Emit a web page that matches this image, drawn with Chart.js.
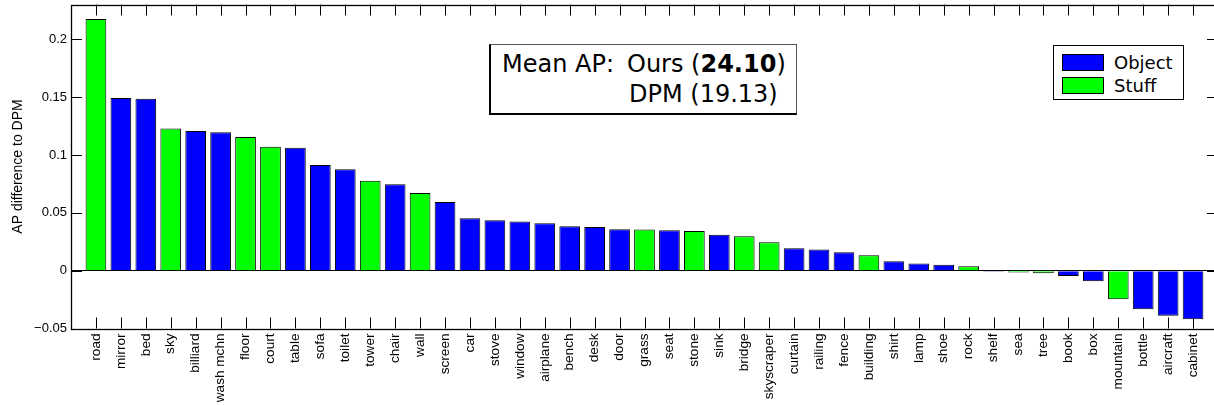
<!DOCTYPE html>
<html>
<head>
<meta charset="utf-8">
<script src="https://cdn.jsdelivr.net/npm/chart.js@4.4.1/dist/chart.umd.min.js"></script>
<style>
  html, body { margin: 0; padding: 0; background: #fff; overflow: hidden; }
  #wrap { position: relative; width: 1240px; height: 405px; }
  #note {
    position: absolute; left: 489px; top: 44px; width: 305px; height: 68px;
    background: #fff; border: 1px solid #555; border-left: 2px solid #000; border-bottom: 2px solid #000;
    font-family: 'DejaVu Sans', sans-serif; font-size: 24px; color: #000;
  }
  #note span { position: absolute; white-space: nowrap; line-height: 1; }
  #legend {
    position: absolute; left: 1053px; top: 45px; width: 129px; height: 53px;
    background: #fff; border: 1px solid #000;
    font-family: 'DejaVu Sans', sans-serif; font-size: 18px; color: #000;
  }
  #legend .row { position: absolute; left: 8px; height: 16px; display: flex; align-items: center; }
  #legend .sw { width: 40px; height: 15px; border: 1px solid #000; margin-right: 10px; }
</style>
</head>
<body>
<div id="wrap">
  <canvas id="apChart"></canvas>
  <div id="note">
    <span style="left:11px; top:7px;">Mean AP:</span>
    <span style="left:136px; top:7px;">Ours (<b>24.10</b>)</span>
    <span style="left:138px; top:37px;">DPM (19.13)</span>
  </div>
  <div id="legend"></div>
</div>
<script>
// categories sorted by AP gain over DPM
const categories = ['road', 'mirror', 'bed', 'sky', 'billiard', 'wash mchn', 'floor', 'court', 'table', 'sofa',
  'toilet', 'tower', 'chair', 'wall', 'screen', 'car', 'stove', 'window', 'airplane', 'bench',
  'desk', 'door', 'grass', 'seat', 'stone', 'sink', 'bridge', 'skyscraper', 'curtain', 'railing',
  'fence', 'building', 'shirt', 'lamp', 'shoe', 'rock', 'shelf', 'sea', 'tree', 'book',
  'box', 'mountain', 'bottle', 'aircraft', 'cabinet'];
// O = object, S = stuff
const kinds = ['S', 'O', 'O', 'S', 'O', 'O', 'S', 'S', 'O', 'O',
  'O', 'S', 'O', 'S', 'O', 'O', 'O', 'O', 'O', 'O',
  'O', 'O', 'S', 'O', 'S', 'O', 'S', 'S', 'O', 'O',
  'O', 'S', 'O', 'O', 'O', 'S', 'O', 'S', 'S', 'O',
  'O', 'S', 'O', 'O', 'O'];
const apDiff = [0.2175, 0.1491, 0.1485, 0.1228, 0.1206, 0.1197, 0.1154, 0.1070, 0.1061, 0.0912,
  0.0877, 0.0776, 0.0747, 0.0672, 0.0594, 0.0453, 0.0436, 0.0424, 0.0410, 0.0384,
  0.0378, 0.0358, 0.0356, 0.0349, 0.0343, 0.0311, 0.0298, 0.0246, 0.0194, 0.0182,
  0.0159, 0.0133, 0.0081, 0.0061, 0.0052, 0.0038, -0.0009, -0.0017, -0.0023, -0.0046,
  -0.0092, -0.0247, -0.0334, -0.0389, -0.0420];
const yTicks = [-0.05, 0, 0.05, 0.1, 0.15, 0.2];
const yTickLabels = ['\u22120.05', '0', '0.05', '0.1', '0.15', '0.2'];

const kindColors = { O: '#0000ff', S: '#00ff00' };
const kindNames = { O: 'Object', S: 'Stuff' };

// legend box
const legend = document.getElementById('legend');
['O', 'S'].forEach((k, i) => {
  legend.innerHTML += `<div class="row" style="top:${8 + i * 23}px"><div class="sw" style="background:${kindColors[k]}"></div>${kindNames[k]}</div>`;
});

Chart.defaults.font.family = "'Liberation Sans', Arial, sans-serif";
Chart.defaults.color = '#000';

// matlab style box with inward ticks
const axesBox = {
  id: 'axesBox',
  beforeDatasetsDraw(chart) {
    const { ctx, chartArea: a, scales: { x, y } } = chart;
    ctx.save();
    ctx.strokeStyle = '#000';
    ctx.lineWidth = 1;
    ctx.beginPath();
    x.ticks.forEach(t => {
      const px = Math.round(x.getPixelForValue(t.value)) + 0.5;
      ctx.moveTo(px, a.top); ctx.lineTo(px, a.top + 11);
      ctx.moveTo(px, a.bottom); ctx.lineTo(px, a.bottom - 11);
    });
    y.ticks.forEach(t => {
      const py = Math.round(y.getPixelForValue(t.value)) + 0.5;
      ctx.moveTo(a.left, py); ctx.lineTo(a.left + 11, py);
      ctx.moveTo(a.right, py); ctx.lineTo(a.right - 11, py);
    });
    ctx.stroke();
    ctx.restore();
  },
  afterDatasetsDraw(chart) {
    const { ctx, chartArea: a } = chart;
    ctx.save();
    ctx.strokeStyle = '#000';
    ctx.lineWidth = 1.3;
    ctx.strokeRect(Math.round(a.left) + 0.5, Math.round(a.top) + 0.5,
      Math.round(a.right - a.left), Math.round(a.bottom - a.top));
    ctx.restore();
  }
};

new Chart(document.getElementById('apChart'), {
  type: 'bar',
  data: {
    datasets: [{
      label: 'AP difference',
      data: apDiff.map((v, i) => ({ x: i + 1, y: v })),
      backgroundColor: kinds.map(k => kindColors[k]),
      borderColor: '#000',
      borderWidth: 1,
      barPercentage: 0.83,
      categoryPercentage: 1
    }]
  },
  options: {
    responsive: true,
    maintainAspectRatio: false,
    animation: false,
    layout: { padding: { left: 0, top: 4.5, right: 22, bottom: 0 } },
    plugins: {
      legend: { display: false },
      tooltip: { enabled: false }
    },
    scales: {
      x: {
        type: 'linear',
        offset: false,
        min: 0,
        max: 46,
        afterBuildTicks: scale => { scale.ticks = categories.map((c, i) => ({ value: i + 1 })); },
        afterFit: scale => { scale.height = 76.5; scale.paddingLeft = 0; scale.paddingRight = 0; },
        grid: { display: false, drawTicks: false },
        border: { display: false },
        ticks: {
          autoSkip: false,
          minRotation: 90,
          maxRotation: 90,
          padding: 5,
          font: { size: 13.6 },
          callback: value => categories[value - 1] || ''
        }
      },
      y: {
        min: -0.05,
        max: 0.23,
        afterBuildTicks: scale => { scale.ticks = yTicks.map(v => ({ value: v })); },
        afterFit: scale => { scale.width = 71; scale.paddingTop = 0; scale.paddingBottom = 0; },
        grid: {
          drawTicks: false,
          color: c => (c.tick && c.tick.value === 0 ? '#000' : 'rgba(0,0,0,0)')
        },
        border: { display: false },
        ticks: {
          padding: 4,
          font: { size: 13 },
          callback: (value, index) => yTickLabels[index]
        },
        title: {
          display: true,
          text: 'AP difference to DPM',
          font: { size: 14 },
          padding: { top: 10, bottom: 0 }
        }
      }
    }
  },
  plugins: [axesBox]
});
</script>
</body>
</html>
